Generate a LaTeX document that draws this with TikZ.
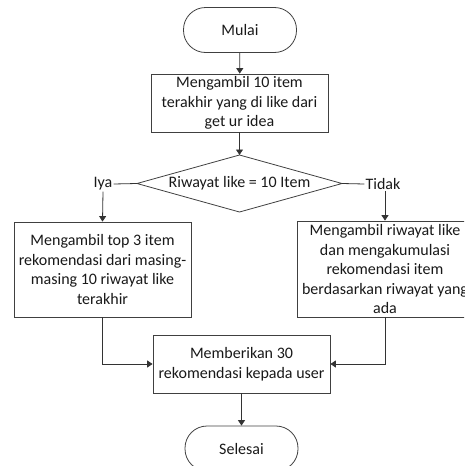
\documentclass[tikz,border=0pt]{standalone}
\usepackage{fontspec}
\setmainfont{Carlito}
\usetikzlibrary{arrows.meta}
\begin{document}
\begin{tikzpicture}[x=1pt,y=-1pt,
  every node/.style={font=\fontsize{16}{19.5}\selectfont, text=black!90},
  box/.style={draw=black!75, line width=0.8pt, rectangle, align=center, inner sep=0pt, fill=white},
  term/.style={draw=black!75, line width=0.8pt, rectangle, rounded corners=22pt, minimum width=113pt, minimum height=45pt, inner sep=0pt},
  shp/.style={draw=black!75, line width=0.8pt},
  lbl/.style={inner sep=1pt},
  line/.style={draw=black!80, line width=0.8pt},
  arr/.style={line, -{Triangle[length=5.5pt,width=7pt]}}]
\useasboundingbox[clip] (0,0) rectangle (464,466);
\node[term] (start) at (240,30) {Mulai};
\node[box, minimum width=177pt, minimum height=58pt] (b1) at (239.5,103) {Mengambil 10 item\\terakhir yang di like dari\\get ur idea};
\coordinate (dT) at (239.5,155);
\coordinate (dR) at (342,183.5);
\coordinate (dB) at (239.5,212);
\coordinate (dL) at (137,183.5);
\draw[shp] (dT) -- (dR) -- (dB) -- (dL) -- cycle;
\node[inner sep=0pt] (dec) at (239.5,183.5) {Riwayat like = 10 Item};
\node[lbl] (iya) at (103,184) {Iya};
\node[lbl] (tidak) at (383,184) {Tidak};
\node[box, minimum width=177pt, minimum height=95pt] (lb) at (102.5,269.5) {Mengambil top 3 item\\rekomendasi dari masing-\\masing 10 riwayat like\\terakhir};
\node[box, minimum width=176pt, minimum height=96pt] (rb) at (385,269) {Mengambil riwayat like\\dan mengakumulasi\\rekomendasi item\\berdasarkan riwayat yang\\ada};
\node[box, minimum width=177pt, minimum height=58pt] (b4) at (241.5,364) {Memberikan 30\\rekomendasi kepada user};
\node[term] (end) at (241.5,448.5) {Selesai};
\draw[arr] (start) -- (b1);
\draw[arr] (b1) -- (dT);
\draw[line] (dL) -- (iya.east);
\draw[line] (dR) -- (tidak.west);
\draw[arr] (iya.south) -- (lb.north);
\draw[arr] (tidak.south -| rb.north) -- (rb.north);
\draw[arr] (lb.south) |- (b4.west);
\draw[arr] (rb.south) |- (b4.east);
\draw[arr] (b4) -- (end);
\end{tikzpicture}
\end{document}
